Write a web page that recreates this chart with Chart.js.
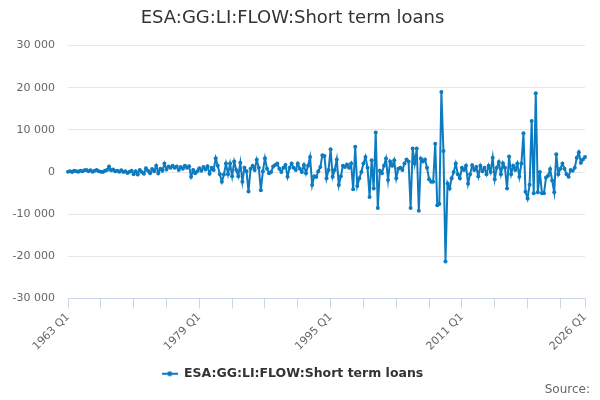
<!DOCTYPE html>
<html>
<head>
<meta charset="utf-8">
<script src="https://cdn.jsdelivr.net/npm/chart.js@4/dist/chart.umd.min.js"></script>
<style>
  body { margin: 0; background: #fff; }
  #wrap { position: relative; width: 600px; height: 400px; }
  #source { position: absolute; right: 10px; top: 382px; font: 12px "DejaVu Sans", sans-serif; color: #666; }
</style>
</head>
<body>
<div id="wrap">
  <canvas id="chart" width="600" height="400"></canvas>
  <div id="source">Source:</div>
</div>
<script>
// series: quarterly flows, 1963 Q1 .. 2026 Q1
const seriesName = "ESA:GG:LI:FLOW:Short term loans";
const firstYear = 1963;
const values = [
  100, 200, 0, 300, 200, 100, 300, 200, 400, 500,
  200, 400, 100, 300, 500, 200, 100, 0, 300, 500,
  1300, 400, 600, 200, 300, 100, 400, 0, 200, -200,
  100, 300, -500, 200, -600, 500, 0, -400, 900, 300,
  -300, 700, 200, 1500, -300, 800, 300, 2000, 600, 1300,
  1000, 1500, 1000, 1300, 500, 1200, 800, 1500, 1000, 1400,
  -1100, 500, -300, 200, 900, 300, 1200, 600, 1400, -400,
  1000, 500, 3300, 1500, -500, -2300, -600, 2000, -500, 2000,
  -1000, 2500, 500, -1000, 2200, -2300, 1000, 200, -4600, 800,
  1500, 500, 2900, 1000, -4300, 200, 3300, 800, -300, 0,
  1300, 1700, 2000, 800, 0, 1000, 1700, -1100, 1000, 2000,
  1000, 500, 2000, 800, 0, 1700, -300, 1500, 3600, -3100,
  -1000, -1200, 200, 1200, 4000, 3800, -1500, 500, 5400, -1100,
  500, 3000, -3100, -1000, 1500, 1200, 1800, 1000, 2000, -4100,
  6000, -3300, -1500, 0, 2000, 3600, 1000, -5900, 2800, -3900,
  9400, -8500, 300, -300, 1500, 3200, -1900, 2500, 1500, 2800,
  -1500, 800, 1000, 500, 2000, 3000, 2500, -8500, 5600, 2000,
  5600, -9200, 3200, 2500, 3000, 1000, -1700, -2300, -2300, 6700,
  -7900, -7600, 19000, 5000, -21200, -2700, -3900, -1500, 0, 2000,
  -500, -1500, 1000, 500, 1500, -2800, -500, 1600, 500, 1200,
  -1000, 1500, 200, 1000, -500, 1500, 0, 3400, -1700, 1000,
  2400, -500, 2100, 1000, -3900, 3700, -500, 1500, 500, 2000,
  -1100, 2000, 9200, -4700, -6300, -3000, 12100, -5000, 18700, -4800,
  0, -5000, -5000, -1300, -900, 700, -2000, -4800, 4200, -500,
  800, 2000, 800, -500, -1100, 500, 300, 1000, 3400, 4700,
  2200, 3000, 3600
];

// quarter labels
const quarters = [];
for (let i = 0; i < values.length; i++) {
  quarters.push((firstYear + Math.floor(i / 4)) + " Q" + (i % 4 + 1));
}

const color = "#0c7bc0";
const last = quarters.length - 1;

// legend symbol: line with a dot
const sym = document.createElement("canvas");
sym.width = 16; sym.height = 10;
const sc = sym.getContext("2d");
sc.strokeStyle = color; sc.lineWidth = 2;
sc.beginPath(); sc.moveTo(0, 5); sc.lineTo(16, 5); sc.stroke();
sc.fillStyle = color;
sc.beginPath(); sc.arc(8, 5, 2.5, 0, Math.PI * 2); sc.fill();

function spaced(v) {
  return String(v).replace(/\B(?=(\d{3})+(?!\d))/g, " ");
}

Chart.defaults.font.family = '"DejaVu Sans", sans-serif';

new Chart(document.getElementById("chart"), {
  type: "line",
  data: {
    labels: quarters,
    datasets: [{
      label: seriesName,
      data: values,
      borderColor: color,
      backgroundColor: color,
      borderWidth: 2,
      pointRadius: 2,
      pointBorderWidth: 0,
      tension: 0
    }]
  },
  options: {
    responsive: false,
    animation: false,
    layout: { padding: { left: 0, right: 15, top: 0, bottom: 10 } },
    plugins: {
      title: {
        display: true,
        text: seriesName,
        color: "#333",
        font: { size: 18, weight: "normal" },
        padding: { top: 8, bottom: 16 }
      },
      legend: {
        position: "bottom",
        labels: {
          color: "#333",
          font: { size: 12.5, weight: "bold" },
          usePointStyle: true,
          pointStyle: sym,
          pointStyleWidth: 16,
          padding: 10
        }
      },
      tooltip: { enabled: false }
    },
    scales: {
      x: {
        type: "category",
        offset: false,
        afterBuildTicks: s => {
          s.ticks = s.ticks.filter(t => t.value % 16 === 0 || t.value === last);
        },
        afterFit: s => { s.height = 59; },
        grid: {
          drawOnChartArea: false,
          drawTicks: true,
          tickLength: 10,
          color: "#ccd6eb"
        },
        border: { color: "#ccd6eb" },
        ticks: {
          autoSkip: false,
          maxRotation: 45,
          minRotation: 45,
          color: "#666",
          font: { size: 11 },
          padding: 2,
          callback: function (v) {
            return (v % 64 === 0 || v === last) ? this.getLabelForValue(v) : "";
          }
        }
      },
      y: {
        min: -30000,
        max: 30000,
        afterFit: s => { s.width = 68; },
        grid: { color: "#e6e6e6", drawTicks: false },
        border: { display: false },
        ticks: {
          stepSize: 10000,
          color: "#666",
          font: { size: 11 },
          padding: 13,
          callback: v => spaced(v)
        }
      }
    }
  }
});
</script>
</body>
</html>
